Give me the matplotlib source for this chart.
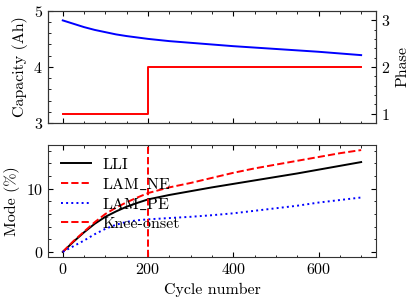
import matplotlib
matplotlib.use("Agg")
import matplotlib.pyplot as plt
from matplotlib.ticker import MultipleLocator

plt.rcParams.update({
    "font.family": "serif",
    "font.serif": ["cmr10"],
    "mathtext.fontset": "cm",
    "axes.formatter.use_mathtext": True,
    "font.size": 11.5,
    "axes.linewidth": 0.8,
    "axes.edgecolor": "#333333",
    "xtick.direction": "in",
    "ytick.direction": "in",
    "xtick.top": True,
    "ytick.right": True,
    "xtick.major.size": 3.5,
    "ytick.major.size": 3.5,
    "xtick.minor.size": 1.8,
    "ytick.minor.size": 1.8,
    "xtick.minor.visible": True,
    "ytick.minor.visible": True,
})

cap_cycles = [0, 25, 50, 75, 100, 125, 150, 200, 250, 300, 400, 500, 600, 700]
capacity = [4.83, 4.77, 4.71, 4.66, 4.62, 4.58, 4.55, 4.50, 4.46, 4.43, 4.37,
            4.32, 4.27, 4.21]

phase_cycles = [0, 200, 200, 700]
phase = [1, 1, 2, 2]

mode_cycles = [0, 25, 50, 75, 100, 125, 150, 175, 200, 250, 300, 350, 400,
               450, 500, 550, 600, 650, 700]
lli = [0, 1.6, 3.1, 4.45, 5.55, 6.4, 7.15, 7.75, 8.3, 9.0, 9.6, 10.2, 10.75,
       11.3, 11.85, 12.4, 13.0, 13.6, 14.2]
lam_ne = [0, 1.7, 3.2, 4.7, 6.0, 7.0, 7.85, 8.6, 9.3, 10.2, 10.9, 11.7, 12.5,
          13.2, 13.8, 14.4, 15.0, 15.6, 16.1]
lam_pe = [0, 0.9, 1.8, 2.8, 3.65, 4.3, 4.75, 5.0, 5.15, 5.35, 5.55, 5.8, 6.1,
          6.5, 6.9, 7.3, 7.8, 8.2, 8.6]
knee_onset = 200

fig = plt.figure(figsize=(4.16, 3.02), dpi=100)
ax1 = fig.add_axes([0.115, 0.593, 0.789, 0.371])
ax2 = fig.add_axes([0.115, 0.149, 0.789, 0.371], sharex=ax1)

lw = 1.4
ax1.plot(cap_cycles, capacity, color="blue", lw=lw)
ax1.set_ylim(3, 5)
ax1.set_ylabel("Capacity (Ah)")
ax1.yaxis.set_major_locator(MultipleLocator(1))
ax1.yaxis.set_minor_locator(MultipleLocator(0.2))
ax1.tick_params(labelbottom=False, right=False)

ax1b = ax1.twinx()
ax1b.plot(phase_cycles, phase, color="red", lw=lw)
ax1b.set_ylim(0.8, 3.2)
ax1b.set_ylabel("Phase")
ax1b.yaxis.set_major_locator(MultipleLocator(1))
ax1b.yaxis.set_minor_locator(MultipleLocator(0.2))

ax2.plot(mode_cycles, lli, color="black", lw=lw, label="LLI")
ax2.plot(mode_cycles, lam_ne, color="red", lw=lw, ls="--", label=r"LAM$\_$NE")
ax2.plot(mode_cycles, lam_pe, color="blue", lw=lw, ls=":", label=r"LAM$\_$PE")
ax2.axvline(knee_onset, color="red", lw=lw, ls="--", label="Knee-onset")
ax2.set_ylabel("Mode (%)")
ax2.set_xlabel("Cycle number")
ax2.yaxis.set_major_locator(MultipleLocator(10))
ax2.yaxis.set_minor_locator(MultipleLocator(2))
ax2.xaxis.set_major_locator(MultipleLocator(200))
ax2.xaxis.set_minor_locator(MultipleLocator(50))
ax2.legend(loc="upper left", frameon=False, handlelength=1.9,
           handletextpad=0.7, labelspacing=0.3, borderaxespad=0.4)

fig.savefig("out.png", dpi=100)
